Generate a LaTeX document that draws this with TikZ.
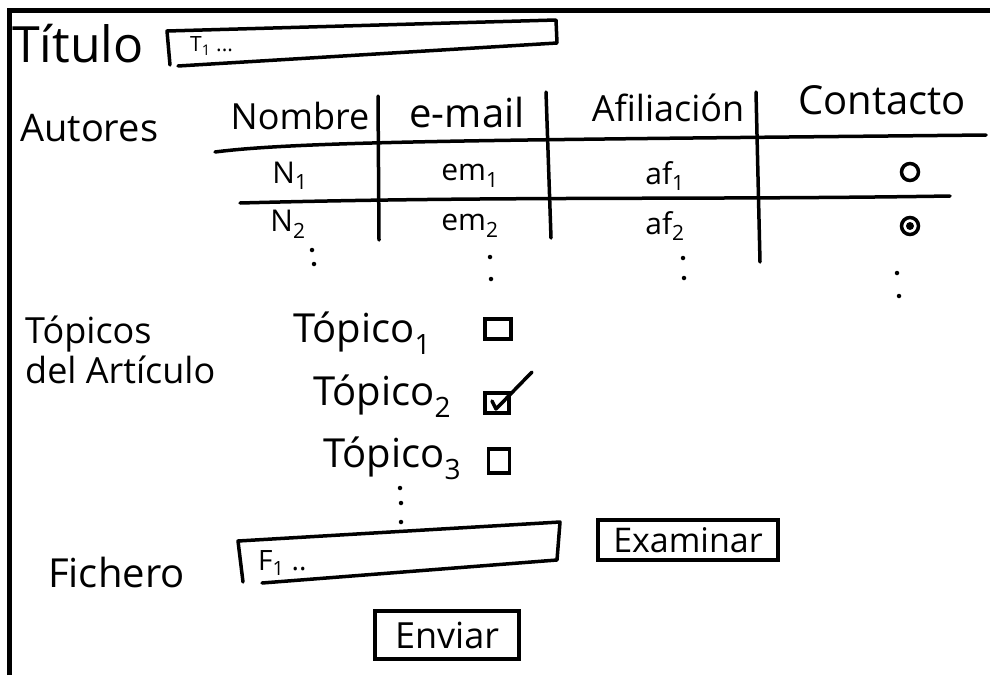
\documentclass[tikz,border=0pt]{standalone}
\usepackage{fontspec}
\setmainfont{Open Sans}
\begin{document}
\begin{tikzpicture}[x=1pt,y=-1pt,
  ink/.style={line width=3.5pt, line cap=round, line join=round},
  txt/.style={inner sep=0pt, font=\fontsize{#1}{#1}\selectfont},
  txt/.default=36,
  btn/.style={draw, line width=3.5pt, inner sep=5pt, font=\fontsize{34}{34}\selectfont},
  dot/.style={fill, circle, inner sep=0pt, minimum size=4.5pt},
  cbox/.style={draw, line width=3.5pt, inner sep=0pt, minimum width=22pt, minimum height=18pt}]
\useasboundingbox (0,0) rectangle (990,675);
\fill[white] (0,0) rectangle (990,675);
% frame
\draw[line width=5pt] (9.5,675) -- (9.5,10.5) -- (990,10.5);

% title
\node[txt=50, anchor=west] (tit) at (12,44) {Título};
\draw[ink] (170,65) -- (167,31) -- (556,20) -- (557,43) -- (178,66);
\node[txt=21, anchor=west] (t1) at (190,46) {T\textsubscript{1} ...};

% authors
\node[txt=38, anchor=west] (aut) at (20,128) {Autores};
\node[txt=36] (hnom) at (300,116) {Nombre};
\node[txt=40] (hem) at (467,112) {e-mail};
\node[txt=36] (haf) at (668,108) {Afiliación};
\node[txt=40] (hco) at (882,100) {Contacto};
\draw[ink] (215,152) .. controls (300,141) and (500,140) .. (986,135);
\draw[ink] (240,203) .. controls (500,196) and (700,200) .. (950,196);
\draw[ink] (378,96) -- (379,240);
\draw[ink] (546,92) -- (551,238);
\draw[ink] (756,92) -- (760,262);

\node[txt=30] (n1) at (290,176) {N\textsubscript{1}};
\node[txt=30] (e1) at (470,176) {em\textsubscript{1}};
\node[txt=30] (a1) at (665,176) {af\textsubscript{1}};
\node[draw, circle, line width=3.5pt, inner sep=0pt, minimum size=17pt] (r1) at (910,172) {};
\node[txt=30] (n2) at (288,224) {N\textsubscript{2}};
\node[txt=30] (e2) at (470,226) {em\textsubscript{2}};
\node[txt=30] (a2) at (665,226) {af\textsubscript{2}};
\node[draw, circle, line width=3.5pt, inner sep=0pt, minimum size=17pt] (r2) at (910,226) {};
\node[fill, circle, inner sep=0pt, minimum size=8pt] (r2d) at (r2) {};

\node[dot] (d1a) at (312,250) {};
\node[dot] (d1b) at (314,264) {};
\node[dot] (d2a) at (490,257) {};
\node[dot] (d2b) at (491,279) {};
\node[dot] (d3a) at (683,258) {};
\node[dot] (d3b) at (684,278) {};
\node[dot] (d4a) at (897,273) {};
\node[dot] (d4b) at (899,296) {};

% topics
\node[txt=36, anchor=north west, align=left] (top) at (25,316) {Tópicos\\[2pt]del Artículo};
\node[txt=40, anchor=west] (tp1) at (293,333) {Tópico\textsubscript{1}};
\node[cbox, minimum width=26pt, minimum height=20pt] (c1) at (498,329) {};
\node[txt=40, anchor=west] (tp2) at (313,396) {Tópico\textsubscript{2}};
\node[cbox, minimum width=24pt, minimum height=20pt] (c2) at (497,403) {};
\draw[ink] (c2.center) ++(-5,-2) -- ++(4,8) -- (532,372);
\node[txt=40, anchor=west] (tp3) at (323,458) {Tópico\textsubscript{3}};
\node[cbox, minimum width=21pt, minimum height=24pt] (c3) at (499,461) {};
\node[dot] (d5a) at (400,488) {};
\node[dot] (d5b) at (401,503) {};
\node[dot] (d5c) at (401,522) {};

% file
\node[txt=40, anchor=west] (fic) at (48,572) {Fichero};
\draw[ink] (243,582) -- (238,541) -- (560,522) -- (557,560) -- (262,583);
\node[txt=28, anchor=west] (f1) at (258,563) {F\textsubscript{1} ..};
\node[btn, minimum width=180pt, minimum height=40pt] (exa) at (688,540) {Examinar};
\node[btn, minimum width=144pt, minimum height=48pt, font=\fontsize{36}{36}\selectfont] (env) at (447,635) {Enviar};
\end{tikzpicture}
\end{document}
